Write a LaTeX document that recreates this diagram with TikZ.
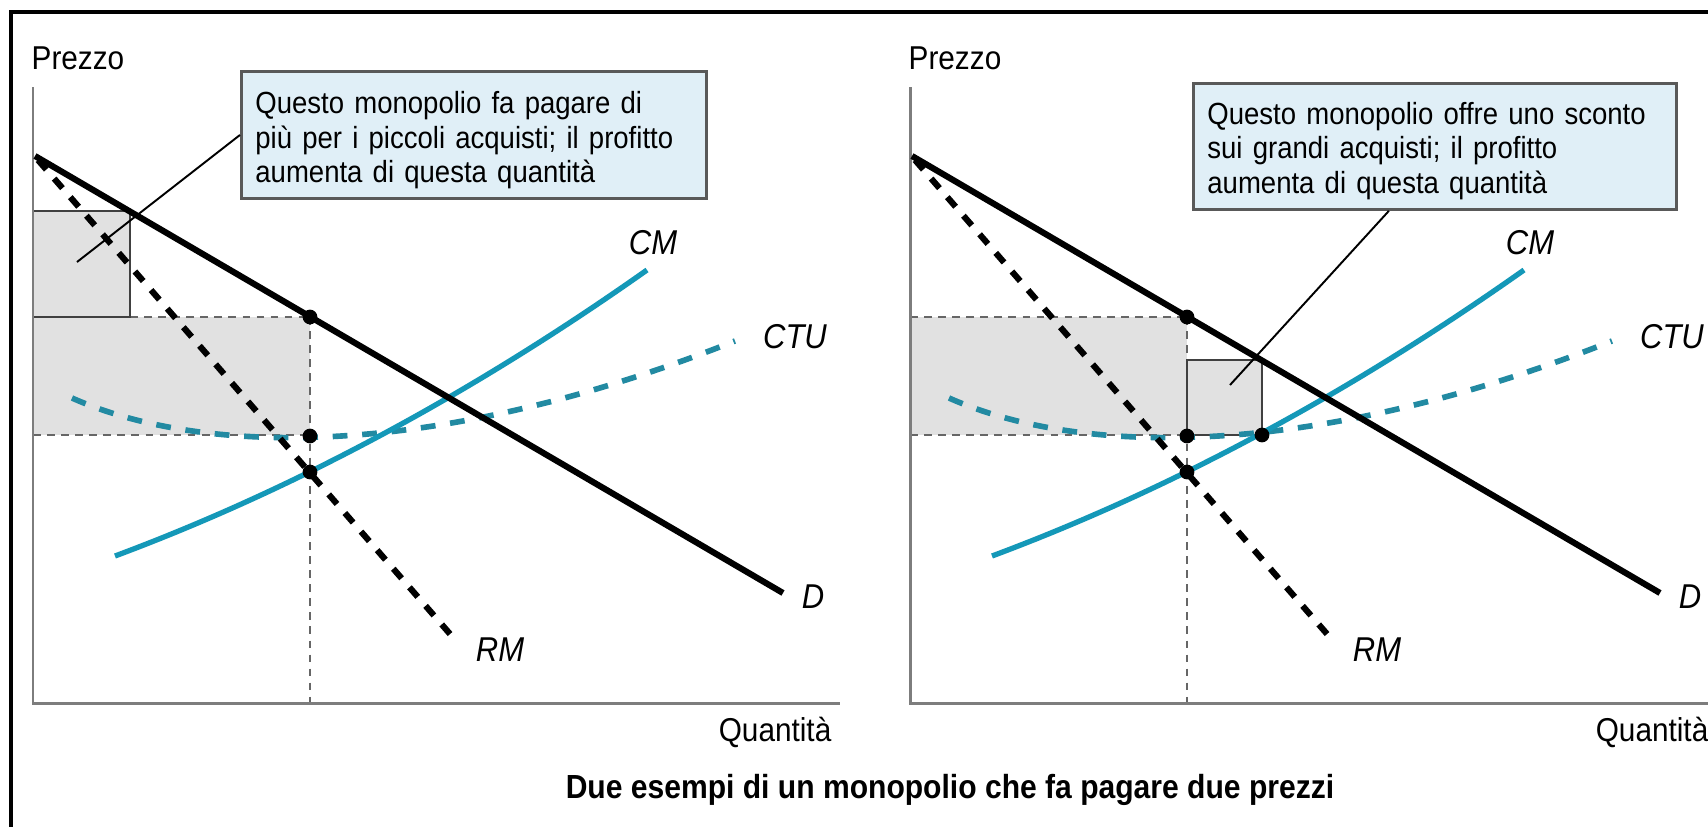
\documentclass[tikz,border=0pt]{standalone}
\usepackage{fontspec}
\setmainfont{Liberation Sans}[FakeStretch=0.9]
\usetikzlibrary{calc}
\definecolor{tealA}{RGB}{20,152,184}
\definecolor{tealB}{RGB}{34,138,162}
\definecolor{shadeG}{RGB}{225,225,225}
\definecolor{callfill}{RGB}{224,239,247}
\definecolor{axisG}{RGB}{125,125,125}
\begin{document}
\begin{tikzpicture}[x=0.01cm,y=-0.01cm,
  demand/.style={line width=1.75pt,black},
  mrev/.style={line width=1.75pt,black,dash pattern=on 3.6pt off 3.4pt},
  mcost/.style={line width=1.5pt,tealA},
  avgcost/.style={line width=1.6pt,tealB,dash pattern=on 4.2pt off 4.2pt},
  guide/.style={black!60,line width=0.5pt,dash pattern=on 2.2pt off 1.8pt},
  axisline/.style={axisG,line width=0.85pt},
  frameline/.style={black,line width=1.1pt},
  rectedge/.style={black!75,line width=0.55pt},
  dotnode/.style={circle,fill=black,inner sep=0pt,minimum size=4.2pt},
  pointer/.style={black,line width=0.55pt},
  callout/.style={draw=black!65,line width=0.8pt,fill=callfill,align=left,
    inner xsep=0.14cm,inner ysep=0pt,font=\fontsize{8.7}{9.8}\selectfont,anchor=north west},
  curvelbl/.style={font=\fontsize{9.8}{11}\selectfont\itshape,inner sep=0pt},
  axlbl/.style={font=\fontsize{9.4}{11}\selectfont,inner sep=0pt},
  titlelbl/.style={font=\fontsize{9.5}{11}\selectfont\bfseries,inner sep=0pt}]
\useasboundingbox (0,0) rectangle (1708,827);
\clip (0,0) rectangle (1708,827);
\fill[white] (0,0) rectangle (1708,827);
\draw[frameline] (11,845) -- (11,12) -- (1725,12);

% shaded areas
\fill[shadeG] (33,317) rectangle (310,435);
\fill[shadeG] (33,211) rectangle (130,317);
\fill[shadeG] (910,317) rectangle (1187,435);
\fill[shadeG] (1187,360) rectangle (1262,435);

% guide lines
\foreach \s in {0,877}{
  \begin{scope}[xshift=\s*0.01cm]
    \draw[guide] (310,317) -- (310,703);
    \draw[guide] (33,435) -- (310,435);
  \end{scope}}
\draw[guide] (130,317) -- (310,317);
\draw[guide] (910,317) -- (1187,317);

% edges of the extra-profit rectangles
\draw[rectedge] (33,211) -- (130,211) -- (130,317) -- (33,317);
\draw[rectedge] (1187,360) rectangle (1262,435);

% axes and curves
\foreach \s/\p in {0/l,877/r}{
  \begin{scope}[xshift=\s*0.01cm]
    \draw[axisline] (33,87) -- (33,703) -- (840,703);
    \draw[avgcost] (72,398) .. controls (200,455) and (430,462) .. (735,341);
    \draw[mcost] (115,556) .. controls (292,490) and (470,395) .. (647,270);
    \draw[mrev] (38,160) -- (457,642);
    \draw[demand] (35,156) -- (783,593);
    \node[dotnode] (\p dD) at (310,317) {};
    \node[dotnode] (\p dCTU) at (310,436) {};
    \node[dotnode] (\p dCM) at (310,472) {};
    \node[axlbl,anchor=west] (\p prezzo) at (31,58) {Prezzo};
    \node[axlbl,anchor=east] (\p quant) at (832,732) {Quantità};
    \node[curvelbl] (\p CM) at (653,243) {CM};
    \node[curvelbl] (\p CTU) at (795,337) {CTU};
    \node[curvelbl] (\p D) at (813,597) {D};
    \node[curvelbl] (\p RM) at (500,650) {RM};
  \end{scope}}
\node[dotnode] (rdQ2) at (1262,435) {};

% callouts
\node[callout,text width=4.37cm,minimum height=1.27cm] (lbox) at (240,70)
  {\rule{0pt}{0.33cm}Questo monopolio fa pagare di\\più per i piccoli acquisti; il profitto\\aumenta di questa quantità};
\coordinate (ltip) at (77,262);
\draw[pointer] (lbox.west) -- (ltip);

\node[callout,text width=4.55cm,minimum height=1.26cm] (rbox) at (1192,82)
  {\rule{0pt}{0.31cm}Questo monopolio offre uno sconto\\sui grandi acquisti; il profitto\\aumenta di questa quantità};
\coordinate (rstart) at ($(rbox.south west)!0.405!(rbox.south east)$);
\coordinate (rtip) at (1230,385);
\draw[pointer] (rstart) -- (rtip);

% title
\node[titlelbl] (title) at (950,790) {Due esempi di un monopolio che fa pagare due prezzi};
\end{tikzpicture}
\end{document}
